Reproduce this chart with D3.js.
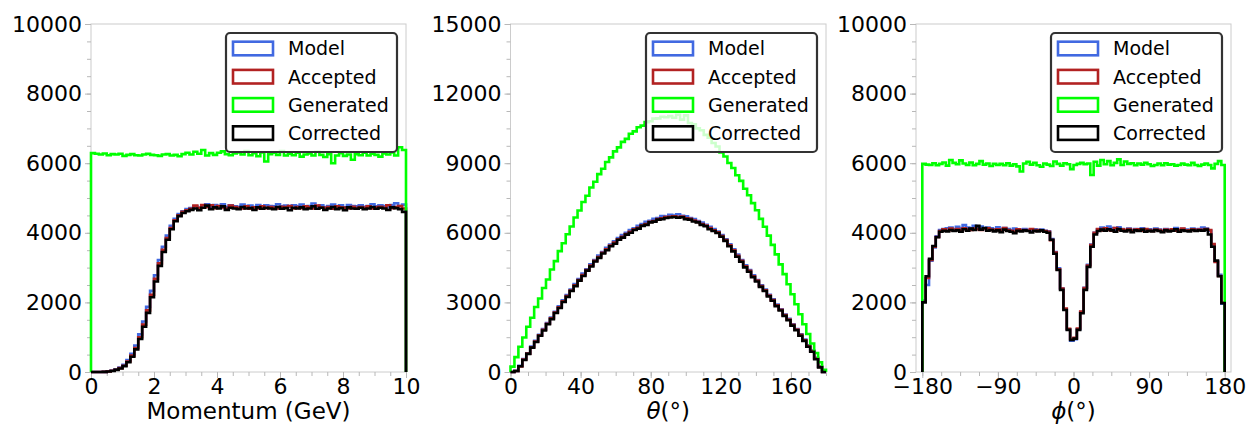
<!DOCTYPE html>
<html>
<head>
<meta charset="utf-8">
<script src="https://cdnjs.cloudflare.com/ajax/libs/d3/7.8.5/d3.min.js"></script>
<style>
body { margin: 0; background: #fff; }
svg text { font-family: "DejaVu Sans", sans-serif; fill: #000; }
.tick text { font-size: 22px; }
.tick line { stroke: #b8b8b8; }
</style>
</head>
<body>
<svg id="chart" width="1258" height="427"></svg>
<script>
// ---- momentum, 80 bins over 0..10 GeV
var momModel = [0,0,0,5,20,40,75,125,210,340,
  520,760,1080,1450,1870,2330,2780,3220,3600,3920,
  4200,4400,4540,4620,4680,4710,4760,4720,4790,4820,
  4750,4800,4770,4820,4740,4790,4760,4750,4810,4770,
  4780,4740,4800,4760,4790,4770,4760,4820,4760,4780,
  4740,4790,4770,4810,4750,4770,4840,4760,4790,4740,
  4770,4810,4750,4790,4730,4800,4770,4760,4790,4750,
  4770,4820,4760,4790,4770,4740,4800,4850,4770,4810];
var momAccepted = [0,0,0,5,15,35,65,110,180,300,
  470,690,1000,1360,1770,2220,2680,3120,3510,3850,
  4140,4360,4500,4600,4650,4690,4780,4720,4800,4740,
  4790,4710,4770,4730,4700,4780,4740,4720,4700,4760,
  4690,4730,4700,4760,4710,4740,4720,4700,4750,4730,
  4770,4700,4740,4710,4760,4730,4700,4780,4730,4710,
  4740,4690,4760,4730,4720,4700,4750,4710,4740,4720,
  4760,4700,4730,4750,4720,4790,4710,4740,4770,4700];
var momGenerated = [6290,6270,6250,6280,6230,6260,6250,6270,6210,6240,
  6260,6230,6220,6250,6270,6240,6230,6210,6250,6260,
  6220,6240,6200,6260,6300,6250,6330,6270,6380,6220,
  6290,6240,6300,6340,6260,6230,6280,6310,6250,6350,
  6230,6290,6200,6310,6050,6260,6300,6240,6350,6220,
  6270,6230,6300,6190,6250,6280,6220,6330,6240,6180,
  6260,6000,6220,6290,6210,6250,6100,6260,6230,6300,
  6220,6270,6240,6190,6280,6250,6310,6220,6460,6380];
var momCorrected = [0,0,0,5,15,30,60,100,170,280,
  440,650,950,1300,1700,2150,2600,3050,3450,3800,
  4100,4330,4480,4570,4620,4660,4700,4650,4720,4780,
  4680,4730,4700,4760,4660,4720,4700,4680,4740,4700,
  4710,4660,4730,4690,4720,4700,4680,4740,4690,4710,
  4650,4720,4700,4730,4680,4700,4760,4690,4720,4660,
  4700,4740,4680,4710,4650,4730,4700,4690,4720,4680,
  4700,4740,4690,4720,4700,4660,4730,4710,4680,4600];

// ---- theta, 80 bins over 0..180 deg
var thModel = [0,50,270,560,810,1100,1340,1600,1850,2110,
  2350,2600,2830,3090,3320,3550,3790,4010,4240,4430,
  4640,4830,5020,5170,5350,5490,5630,5770,5900,6000,
  6120,6190,6300,6380,6470,6520,6600,6640,6720,6700,
  6780,6740,6800,6730,6710,6640,6590,6510,6440,6350,
  6260,6160,6050,5900,5720,5500,5290,5060,4830,4600,
  4390,4170,3960,3740,3550,3330,3130,2910,2700,2480,
  2290,2060,1850,1620,1400,1150,920,610,230,0];
var thAccepted = [0,40,240,540,790,1070,1310,1580,1820,2080,
  2310,2560,2790,3050,3270,3510,3740,3960,4180,4390,
  4590,4790,4960,5140,5290,5450,5580,5720,5830,5950,
  6040,6150,6220,6310,6380,6470,6510,6590,6620,6680,
  6690,6710,6680,6700,6630,6600,6530,6470,6380,6310,
  6200,6110,6020,5860,5690,5460,5250,5010,4790,4560,
  4360,4130,3940,3710,3520,3300,3100,2880,2680,2450,
  2260,2030,1830,1600,1370,1120,900,580,220,0];
var thGenerated = [230,640,1090,1490,1950,2340,2800,3170,3620,3990,
  4420,4780,5210,5550,5940,6270,6660,6960,7330,7600,
  7950,8200,8530,8760,9050,9250,9510,9680,9920,10050,
  10270,10370,10550,10620,10770,10810,10920,10930,11000,10980,
  11030,10960,11090,10880,11060,10730,10680,10500,10420,10220,
  10100,9870,9720,9460,9290,9010,8790,8480,8240,7900,
  7620,7280,6970,6600,6260,5880,5480,5070,4640,4220,
  3780,3350,2920,2490,2060,1640,1230,820,420,90];
var thCorrected = [0,40,250,520,780,1050,1290,1560,1790,2060,
  2280,2540,2760,3020,3240,3490,3700,3940,4140,4370,
  4550,4760,4920,5110,5250,5420,5530,5700,5790,5920,
  6000,6120,6180,6300,6340,6450,6480,6570,6590,6640,
  6660,6680,6650,6670,6590,6570,6490,6450,6340,6280,
  6150,6080,5990,5830,5650,5420,5200,4970,4750,4510,
  4320,4090,3900,3670,3490,3260,3070,2840,2650,2420,
  2230,2000,1800,1560,1340,1090,870,550,200,0];

// ---- phi, 90 bins over -180..180 deg
var phModel = [2050,2500,3200,3580,3900,4080,4110,4130,4150,4100,
  4170,4120,4220,4150,4130,4200,4140,4180,4110,4150,
  4130,4100,4160,4090,4140,4110,4080,4120,4060,4090,
  4110,4080,4060,4100,4070,4090,4060,4040,3820,3450,
  2980,2400,1800,1230,900,940,1230,1720,2420,3080,
  3660,4000,4100,4150,4120,4180,4140,4090,4160,4110,
  4080,4120,4060,4110,4090,4130,4070,4100,4080,4120,
  4090,4060,4110,4080,4100,4140,4070,4110,4090,4080,
  4120,4090,4110,4150,4120,4060,3650,3180,2790,1960];
var phAccepted = [2020,2700,3220,3600,3880,4050,4100,4060,4120,4070,
  4110,4060,4130,4090,4080,4120,4100,4080,4110,4130,
  4090,4070,4100,4060,4140,4080,4060,4030,4100,4070,
  4080,4060,4110,4050,4080,4060,4050,4030,3790,3430,
  2950,2400,1820,1240,950,980,1250,1740,2410,3060,
  3650,4000,4110,4070,4130,4090,4060,4140,4080,4100,
  4070,4110,4050,4090,4100,4060,4110,4080,4050,4090,
  4080,4040,4090,4070,4100,4060,4080,4120,4060,4070,
  4100,4070,4090,4080,4110,4080,3680,3160,2760,1990];
var phGenerated = [5980,5960,5950,6000,5940,5980,6020,5930,6090,6010,
  5970,6080,5990,5950,6020,5940,5980,6060,5960,5990,
  5920,5980,5950,5980,5940,6000,5930,5970,5910,5760,
  5990,6040,5960,6010,5940,5900,5990,5960,5920,6050,
  5980,5930,6000,5970,5830,5950,5980,6010,5970,5990,
  5660,6040,5930,6090,5970,6060,5940,6010,6110,5950,
  6050,5980,6000,5940,5990,5960,6010,5970,5920,5950,
  5990,5940,6000,5960,5970,5930,5950,5990,5960,5940,
  6010,5950,5920,5960,5990,5950,5850,5980,6060,5950];
var phCorrected = [2000,2750,3250,3620,3870,4030,4060,4040,4080,4050,
  4070,4030,4100,4060,4120,4080,4200,4090,4140,4060,
  4080,4040,4070,4020,4090,4050,4030,3990,4060,4040,
  4070,4050,4010,4060,4040,4070,4030,4000,3800,3400,
  2930,2360,1780,1210,920,960,1210,1690,2360,3020,
  3600,3950,4050,4090,4060,4100,4070,4030,4110,4060,
  4040,4080,4020,4070,4050,4090,4030,4060,4040,4080,
  4050,4020,4070,4040,4060,4100,4030,4070,4050,4040,
  4080,4050,4070,4060,4090,3950,3600,3200,2750,1980];

var LABELS = ["Model", "Accepted", "Generated", "Corrected"];
var COLORS = ["#4169e1", "#b22222", "#00ff00", "#000000"];

var TOP = 24, BOTTOM = 372;

var panels = [
  {left: 91, right: 406, xdom: [0, 10], range: [0, 10], ymax: 10000,
   xticks: [0, 2, 4, 6, 8, 10], xminor: d3.range(0, 10.01, 0.5),
   yticks: d3.range(0, 10001, 2000), yminor: d3.range(0, 10001, 500),
   series: [momModel, momAccepted, momGenerated, momCorrected],
   label: [["Momentum (GeV)", false]]},
  {left: 510.5, right: 826, xdom: [0, 180], range: [0, 180], ymax: 15000,
   xticks: [0, 40, 80, 120, 160], xminor: d3.range(0, 181, 10),
   yticks: d3.range(0, 15001, 3000), yminor: d3.range(0, 15001, 750),
   series: [thModel, thAccepted, thGenerated, thCorrected],
   label: [["θ", true], ["(°)", false]]},
  {left: 916, right: 1231, xdom: [-187.5, 187.5], range: [-180, 180], ymax: 10000,
   xticks: [-180, -90, 0, 90, 180], xminor: d3.range(-180, 181, 22.5),
   yticks: d3.range(0, 10001, 2000), yminor: d3.range(0, 10001, 500),
   series: [phModel, phAccepted, phGenerated, phCorrected],
   label: [["ϕ", true], ["(°)", false]]}
];

var svg = d3.select("#chart");

panels.forEach(function (p) {
  var x = d3.scaleLinear().domain(p.xdom).range([p.left, p.right]);
  var y = d3.scaleLinear().domain([0, p.ymax]).range([BOTTOM, TOP]);

  // frame
  svg.append("rect")
    .attr("x", p.left).attr("y", TOP)
    .attr("width", p.right - p.left).attr("height", BOTTOM - TOP)
    .attr("fill", "none").attr("stroke", "#cccccc").attr("stroke-width", 1);

  // minor ticks
  var yMin = svg.append("g").attr("transform", "translate(" + p.left + ",0)")
    .call(d3.axisLeft(y).tickValues(p.yminor).tickSize(4).tickFormat(""));
  yMin.select(".domain").remove();
  var xMin = svg.append("g").attr("transform", "translate(0," + BOTTOM + ")")
    .call(d3.axisBottom(x).tickValues(p.xminor).tickSize(4).tickFormat(""));
  xMin.select(".domain").remove();

  // major ticks
  var ya = svg.append("g").attr("transform", "translate(" + p.left + ",0)")
    .call(d3.axisLeft(y).tickValues(p.yticks).tickSize(6).tickPadding(3).tickFormat(d3.format("d")));
  ya.select(".domain").remove();
  var xa = svg.append("g").attr("transform", "translate(0," + BOTTOM + ")")
    .call(d3.axisBottom(x).tickValues(p.xticks).tickSize(6).tickPadding(0).tickFormat(d3.format("d")));
  xa.select(".domain").remove();
  svg.selectAll(".tick text").attr("font-family", "DejaVu Sans");

  // axis label
  var lab = svg.append("text")
    .attr("x", (p.left + p.right) / 2).attr("y", 419)
    .attr("text-anchor", "middle").style("font-size", "23px");
  p.label.forEach(function (part) {
    lab.append("tspan").text(part[0]).style("font-style", part[1] ? "italic" : "normal");
  });

  // step histograms
  var line = d3.line().x(function (d) { return x(d[0]); }).y(function (d) { return y(d[1]); });
  p.series.forEach(function (vals, k) {
    var n = vals.length, w = (p.range[1] - p.range[0]) / n;
    var pts = [[p.range[0], 0]];
    vals.forEach(function (v, i) {
      pts.push([p.range[0] + i * w, v]);
      pts.push([p.range[0] + (i + 1) * w, v]);
    });
    pts.push([p.range[1], 0]);
    svg.append("path")
      .attr("d", line(pts))
      .attr("fill", "none")
      .attr("stroke", COLORS[k])
      .attr("stroke-width", 2.6)
      .attr("stroke-linejoin", "miter");
  });

  // legend
  var lx = p.right - 180, ly = 33;
  var leg = svg.append("g").attr("class", "legend");
  leg.append("rect")
    .attr("x", lx).attr("y", ly).attr("width", 171).attr("height", 119)
    .attr("rx", 4).attr("ry", 4)
    .attr("fill", "#ffffff").attr("fill-opacity", 0.8)
    .attr("stroke", "#333333").attr("stroke-width", 2.2);
  LABELS.forEach(function (name, i) {
    var cy = ly + 15.5 + i * 28.2;
    leg.append("rect")
      .attr("x", lx + 7).attr("y", cy - 6.8)
      .attr("width", 40).attr("height", 13.6)
      .attr("fill", "none").attr("stroke", COLORS[i]).attr("stroke-width", 2.6);
    leg.append("text")
      .attr("x", lx + 62).attr("y", cy + 6.8)
      .style("font-size", "19px")
      .text(name);
  });
});
</script>
</body>
</html>
